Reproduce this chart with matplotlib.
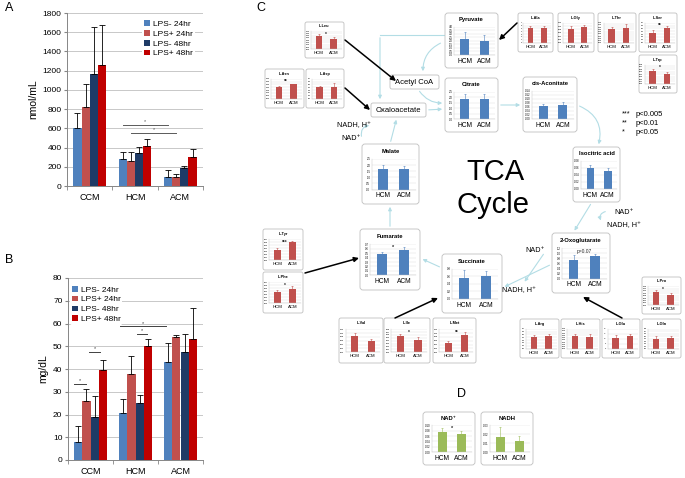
import numpy as np
import matplotlib.pyplot as plt
from matplotlib.patches import FancyBboxPatch, FancyArrowPatch

plt.rcParams['font.family'] = ['Liberation Sans', 'DejaVu Sans']

# ---- panel A / B data ----
groups = ['CCM', 'HCM', 'ACM']
series = ['LPS- 24hr', 'LPS+ 24hr', 'LPS- 48hr', 'LPS+ 48hr']
a_vals = [[600, 280, 95], [820, 265, 95], [1170, 345, 185], [1255, 415, 300]]
a_errs = [[160, 70, 70], [245, 90, 25], [485, 60, 20], [415, 70, 90]]
b_vals = [[8, 20.5, 43], [26, 38, 54], [19, 25, 47.5], [39.5, 50, 53]]
b_errs = [[7, 6.5, 8.5], [5, 7.5, 1], [9, 3.5, 8], [4.5, 3, 14]]

# ---- panel C: TCA intermediates (HCM vs ACM) ----
tca_names = ['Pyruvate', 'Citrate', 'cis-Aconitate', 'Isocitric acid',
             '2-Oxoglutarate', 'Succinate', 'Fumarate', 'Malate']
tca_hcm = [2.2, 1.8, 0.064, 0.06, 0.73, 0.55, 0.48, 1.67]
tca_acm = [2.0, 1.85, 0.07, 0.05, 0.9, 0.6, 0.56, 1.72]
tca_hcm_err = [1.1, 0.45, 0.012, 0.008, 0.19, 0.21, 0.05, 0.33]
tca_acm_err = [0.8, 0.45, 0.013, 0.008, 0.05, 0.14, 0.07, 0.23]
tca_ymax = [4.0, 2.5, 0.14, 0.08, 1.2, 0.8, 0.7, 2.5]
tca_step = [0.5, 0.5, 0.02, 0.02, 0.2, 0.2, 0.1, 0.5]
tca_sig = ['', '', '', '', 'p=0.07', '', '*', '']

# ---- panel C: amino acids ----
aa_names = ['L-Leu', 'L-Asn', 'L-Asp', 'L-Ala', 'L-Gly', 'L-Thr', 'L-Ser', 'L-Trp',
            'L-Tyr', 'L-Phe', 'L-Val', 'L-Ile', 'L-Met', 'L-Pro', 'L-Arg', 'L-His',
            'L-Glu', 'L-Gln']
aa_hcm = [0.285, 0.20, 0.40, 5.2, 0.085, 0.31, 0.35, 0.052, 0.035, 0.038, 0.085, 0.055,
          0.05, 0.11, 0.42, 0.28, 11, 0.40]
aa_acm = [0.225, 0.25, 0.40, 5.1, 0.093, 0.325, 0.50, 0.040, 0.060, 0.048, 0.060, 0.043,
          0.09, 0.09, 0.43, 0.27, 13, 0.44]
aa_hcm_err = [0.05, 0.02, 0.03, 0.8, 0.015, 0.05, 0.08, 0.008, 0.005, 0.006, 0.015, 0.01,
              0.01, 0.02, 0.05, 0.04, 2.5, 0.10]
aa_acm_err = [0.045, 0.01, 0.16, 0.7, 0.012, 0.09, 0.10, 0.008, 0.005, 0.008, 0.01, 0.01,
              0.018, 0.012, 0.08, 0.05, 1.5, 0.05]
aa_ymax = [0.40, 0.35, 0.7, 7, 0.12, 0.45, 0.7, 0.08, 0.07, 0.07, 0.12, 0.08, 0.12, 0.16,
           0.7, 0.45, 20, 0.8]
aa_step = [0.05, 0.05, 0.1, 1, 0.02, 0.05, 0.1, 0.01, 0.01, 0.01, 0.02, 0.01, 0.02, 0.02,
           0.1, 0.05, 5, 0.1]
aa_sig = ['*', '**', '', '', '', '', '**', '*', '***', '*', '', '*', '**', '*', '', '', '', '']

# ---- panel D ----
nad_names = ['NAD\u207a', 'NADH']
nad_hcm = [0.076, 0.017]
nad_acm = [0.067, 0.013]
nad_hcm_err = [0.012, 0.011]
nad_acm_err = [0.011, 0.005]
nad_ymax = [0.10, 0.030]
nad_step = [0.02, 0.010]
nad_sig = ['*', '']

pvals = [('***', 'p<0.005'), ('**', 'p<0.01'), ('*', 'p<0.05')]

W, H = 685, 478
fig = plt.figure(figsize=(6.85, 4.78), dpi=100)
ov = fig.add_axes([0, 0, 1, 1], zorder=0)
ov.set_xlim(0, W)
ov.set_ylim(H, 0)
ov.axis('off')


def add_ax(x0, y0, x1, y1, z=2):
    return fig.add_axes([x0 / W, 1 - y1 / H, (x1 - x0) / W, (y1 - y0) / H], zorder=z)


bar_colors = ['#4F81BD', '#C0504D', '#1F3B66', '#C00000']
offsets = [-0.27, -0.09, 0.09, 0.27]


def bar_panel(rect, vals, errs, ymax, ystep, ylabel, loc, anchor):
    ax = add_ax(*rect)
    x = np.arange(len(groups))
    for i in range(4):
        pos = x + offsets[i]
        ax.bar(pos, vals[i], 0.18, color=bar_colors[i], label=series[i], zorder=2)
        ax.errorbar(pos, vals[i], yerr=[np.zeros(3), errs[i]], fmt='none', ecolor='black',
                    elinewidth=0.6, capsize=2, capthick=0.6, zorder=3)
    ax.set_xlim(-0.5, 2.5)
    ax.set_ylim(0, ymax)
    ax.set_yticks(np.arange(0, ymax + ystep / 2, ystep))
    ax.set_xticks(x, groups)
    ax.set_xticks([-0.5, 0.5, 1.5, 2.5], minor=True)
    ax.tick_params(axis='x', which='major', length=0, labelsize=6.5, pad=5)
    ax.tick_params(axis='x', which='minor', length=3, color='#868686')
    ax.tick_params(axis='y', length=2, color='#868686', labelsize=6, pad=2)
    ax.grid(axis='y', color='#BFBFBF', lw=0.6, zorder=0)
    ax.set_axisbelow(True)
    for s in ['top', 'right']:
        ax.spines[s].set_visible(False)
    for s in ['left', 'bottom']:
        ax.spines[s].set_color('#868686')
        ax.spines[s].set_linewidth(0.7)
    ax.set_ylabel(ylabel, fontsize=7.5, labelpad=3)
    ax.legend(loc=loc, bbox_to_anchor=anchor, fontsize=6, frameon=True, facecolor='white',
              edgecolor='none', framealpha=1, handlelength=0.7, handleheight=0.7,
              labelspacing=0.25, handletextpad=0.4, borderpad=0.2, borderaxespad=0)
    return ax


axA = bar_panel((67, 13, 203, 186), a_vals, a_errs, 1800, 200, 'nmol/mL', 'upper right', (0.94, 0.97))
for x0, x1, y in [(0.73, 1.73, 630), (0.91, 1.91, 547)]:
    axA.plot([x0, x1], [y, y], color='#595959', lw=0.7, zorder=4)
    axA.text((x0 + x1) / 2, y + 10, '*', ha='center', va='bottom', fontsize=4, color='#595959')

axB = bar_panel((68, 278, 203, 460), b_vals, b_errs, 80, 10, 'mg/dL', 'upper left', (0.015, 0.967))
for x0, x1, y in [(-0.36, -0.1, 33.3), (-0.03, 0.21, 47.3), (1.03, 1.26, 55.5), (0.66, 1.68, 58.7)]:
    axB.plot([x0, x1], [y, y], color='#404040', lw=0.7, zorder=4)
    axB.text((x0 + x1) / 2, y + 0.4, '*', ha='center', va='bottom', fontsize=4, color='#404040')

fig.text(5 / W, 1 - 8 / H, 'A', fontsize=9, va='center')
fig.text(5 / W, 1 - 260 / H, 'B', fontsize=9, va='center')

# ---- panel C / D overlay ----
ov.text(256, 8, 'C', fontsize=9, va='center')
ov.text(457, 394, 'D', fontsize=9, va='center')


def rbox(x0, y0, x1, y1, r=3):
    ov.add_patch(FancyBboxPatch((x0, y0), x1 - x0, y1 - y0,
                                boxstyle='round,pad=0,rounding_size=%g' % r,
                                fc='white', ec='#BFBFBF', lw=0.6, zorder=2))


def decimals(step):
    return max(0, int(-np.floor(np.log10(step) + 1e-9)))


def mini(box, title, hcm, acm, he, ae, ymax, step, sig, color, big):
    x0, y0, x1, y1 = box
    w, h = x1 - x0, y1 - y0
    rbox(x0, y0, x1, y1, 3 if big else 2)
    ov.text((x0 + x1) / 2, y0 + 0.12 * h, title, ha='center', va='center',
            fontsize=4.2 if big else 2.8, fontweight='bold', zorder=3)
    l = x0 + (0.17 if big else 0.15) * w
    r = x1 - 0.06 * w
    t = y0 + 0.25 * h
    b = y1 - 0.24 * h
    ax = add_ax(l, t, r, b)
    ax.patch.set_alpha(0)
    ax.bar([0, 1], [hcm, acm], 0.45, color=color, zorder=2)
    ax.errorbar([0, 1], [hcm, acm], yerr=[[0, 0], [he, ae]], fmt='none', ecolor=color,
                elinewidth=0.4, capsize=1, capthick=0.4, zorder=3)
    ax.set_xlim(-0.55, 1.55)
    ax.set_ylim(0, ymax)
    ticks = np.arange(0, ymax + step / 2, step)
    d = decimals(step)
    ax.set_yticks(ticks, ['%.*f' % (d, v) for v in ticks])
    ax.set_xticks([0, 1], ['HCM', 'ACM'])
    ax.tick_params(axis='y', length=0, labelsize=2 if big else 1.5, pad=1)
    ax.tick_params(axis='x', length=0, labelsize=4.8 if big else 3.2, pad=2 if big else 1.5)
    ax.grid(axis='y', color='#D9D9D9', lw=0.3, zorder=0)
    for s in ['top', 'right']:
        ax.spines[s].set_visible(False)
    for s in ['left', 'bottom']:
        ax.spines[s].set_color('#BFBFBF')
        ax.spines[s].set_linewidth(0.3)
    if sig:
        ax.text(0.5, ymax * 0.97, sig, ha='center', va='top',
                fontsize=(4 if big else 3.5) if sig != 'p=0.07' else 3.5, fontweight='bold'
                if sig != 'p=0.07' else 'normal', color='#262626')
    return ax


tca_boxes = {'Pyruvate': (445, 13, 498, 68), 'Citrate': (445, 78, 498, 132),
             'cis-Aconitate': (523, 77, 577, 132), 'Isocitric acid': (573, 147, 620, 202),
             '2-Oxoglutarate': (552, 233, 610, 293), 'Succinate': (442, 254, 502, 313),
             'Fumarate': (360, 229, 420, 290), 'Malate': (362, 144, 419, 204)}
aa_boxes = {'L-Leu': (305, 22, 344, 58), 'L-Asn': (265, 69, 304, 108), 'L-Asp': (306, 69, 344, 108),
            'L-Ala': (518, 13, 553, 52), 'L-Gly': (558, 13, 594, 52), 'L-Thr': (598, 13, 636, 52),
            'L-Ser': (639, 13, 677, 52), 'L-Trp': (639, 55, 677, 93), 'L-Tyr': (263, 229, 303, 270),
            'L-Phe': (263, 272, 303, 313), 'L-Val': (339, 318, 383, 363), 'L-Ile': (384, 318, 430, 363),
            'L-Met': (433, 318, 476, 363), 'L-Pro': (642, 277, 681, 314), 'L-Arg': (520, 319, 559, 358),
            'L-His': (561, 319, 600, 358), 'L-Glu': (602, 319, 640, 358), 'L-Gln': (642, 319, 681, 358)}
nad_boxes = [(423, 412, 475, 465), (481, 412, 533, 465)]

for i, n in enumerate(tca_names):
    mini(tca_boxes[n], n, tca_hcm[i], tca_acm[i], tca_hcm_err[i], tca_acm_err[i],
         tca_ymax[i], tca_step[i], tca_sig[i], '#4F81BD', True)
for i, n in enumerate(aa_names):
    mini(aa_boxes[n], n, aa_hcm[i], aa_acm[i], aa_hcm_err[i], aa_acm_err[i],
         aa_ymax[i], aa_step[i], aa_sig[i], '#C0504D', False)
for i, n in enumerate(nad_names):
    mini(nad_boxes[i], n, nad_hcm[i], nad_acm[i], nad_hcm_err[i], nad_acm_err[i],
         nad_ymax[i], nad_step[i], nad_sig[i], '#9BBB59', True)

# simple labelled boxes
for (x0, y0, x1, y1), label in [((390, 75, 439, 89), 'Acetyl CoA'), ((371, 103, 426, 117), 'Oxaloacetate')]:
    rbox(x0, y0, x1, y1, 2)
    ov.text((x0 + x1) / 2, (y0 + y1) / 2, label, ha='center', va='center', fontsize=5.5, zorder=3)

ov.text(495, 172, 'TCA', ha='center', va='center', fontsize=21)
ov.text(493, 205, 'Cycle', ha='center', va='center', fontsize=21)

for (x, y), s in [((354, 126), 'NADH, H\u207a'), ((351, 139), 'NAD\u207a'),
                  ((624, 213), 'NAD\u207a'), ((624, 226), 'NADH, H\u207a'),
                  ((535, 250), 'NAD\u207a'), ((519, 291), 'NADH, H\u207a')]:
    ov.text(x, y, s, ha='center', va='center', fontsize=5.2, zorder=3)

for k, (st, txt) in enumerate(pvals):
    ov.text(622, 114 + 9 * k, st, ha='left', va='center', fontsize=5.2)
    ov.text(636, 114 + 9 * k, txt, ha='left', va='center', fontsize=5.5)

cyc = '#B3DDE5'
ov.plot([445, 380], [35, 35], color=cyc, lw=0.8, zorder=1)
cycle_arrows = [((380, 35), (380, 102), 0), ((443, 42), (423, 74), 0.35), ((418, 89), (445, 103), 0.3),
                ((426, 110), (445, 109), 0), ((498, 105), (523, 105), 0), ((577, 105), (598, 147), -0.45),
                ((592, 202), (573, 233), 0), ((552, 264), (502, 288), 0), ((442, 268), (420, 258), 0),
                ((390, 229), (390, 204), 0), ((390, 144), (397, 117), 0), ((545, 252), (523, 284), 0),
                ((362, 139), (372, 125), -0.6), ((608, 211), (602, 223), 0.7)]
for p0, p1, rad in cycle_arrows:
    ov.add_patch(FancyArrowPatch(p0, p1, arrowstyle='-|>', mutation_scale=5, color=cyc, lw=0.8,
                                 connectionstyle='arc3,rad=%g' % rad, zorder=1))

black_arrows = [((345, 40), (396, 81)), ((345, 88), (370, 110)), ((517, 23), (499, 40)),
                ((305, 273), (359, 258)), ((395, 318), (438, 298)), ((622, 318), (583, 297))]
for p0, p1 in black_arrows:
    ov.add_patch(FancyArrowPatch(p0, p1, arrowstyle='-|>', mutation_scale=7, color='black', lw=1.1,
                                 shrinkA=0, shrinkB=0, zorder=4))

fig.savefig('out.png', dpi=100)
